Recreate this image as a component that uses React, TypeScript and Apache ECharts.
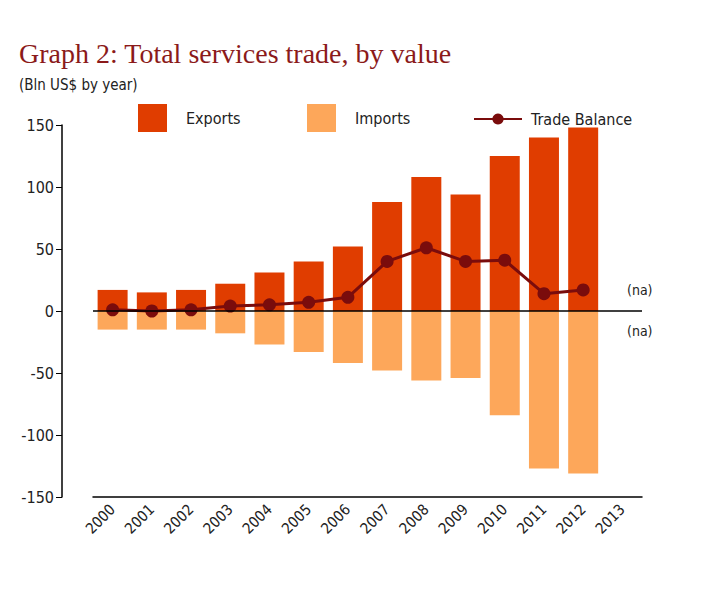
import React, { useEffect, useRef } from "react";
import * as echarts from "echarts";

const years = ["2000","2001","2002","2003","2004","2005","2006","2007","2008","2009","2010","2011","2012","2013"];
const exportsVals = [17, 15, 17, 22, 31, 40, 52, 88, 108, 94, 125, 140, 148, null];
const importsVals = [-15, -15, -15, -18, -27, -33, -42, -48, -56, -54, -84, -127, -131, null];
const balanceVals = [1, 0, 1, 4, 5, 7, 11, 40, 51, 40, 41, 14, 17, null];

const FONT = "'DejaVu Sans Condensed', 'Liberation Sans Narrow', 'Liberation Sans', Arial, sans-serif";

export default function App() {
  const ref = useRef<HTMLDivElement>(null);
  useEffect(() => {
    document.body.style.margin = "0";
    const chart = echarts.init(ref.current!, null, { renderer: "svg" });
    const legendText = { fontFamily: FONT, fontSize: 16, color: "#222", padding: [0, 0, 0, 14] };
    chart.setOption({
      animation: false,
      backgroundColor: "#fff",
      title: [
        { text: "Graph 2: Total services trade, by value", left: 14, top: 34,
          textStyle: { fontFamily: "'Liberation Serif', serif", fontSize: 28, fontWeight: "normal", color: "#8B1A1A" } },
        { text: "(Bln US$ by year)", left: 14, top: 72,
          textStyle: { fontFamily: FONT, fontSize: 15, fontWeight: "normal", color: "#222" } },
      ],
      legend: [
        { data: ["Exports"], left: 133, top: 99, itemWidth: 29, itemHeight: 28, textStyle: legendText, icon: "rect" },
        { data: ["Imports"], left: 302, top: 99, itemWidth: 29, itemHeight: 28, textStyle: legendText, icon: "rect" },
        { data: ["Trade Balance"], left: 468, top: 106, itemWidth: 48, itemHeight: 14, textStyle: { ...legendText, padding: [0, 0, 0, 4] } },
      ],
      grid: { left: 93, right: 80, top: 125, bottom: 103 },
      xAxis: {
        type: "category", data: years, boundaryGap: true,
        axisLine: { onZero: false, lineStyle: { color: "#000", width: 1.5 } },
        axisTick: { alignWithLabel: true, length: 6, lineStyle: { color: "#000" } },
        axisLabel: { rotate: 45, fontFamily: FONT, fontSize: 15, color: "#222", margin: 10 },
      },
      yAxis: {
        type: "value", min: -150, max: 150, interval: 50, offset: 31,
        axisLine: { show: true, lineStyle: { color: "#000", width: 1.5 } },
        axisTick: { show: true, length: 6, lineStyle: { color: "#000" } },
        axisLabel: { fontFamily: FONT, fontSize: 16, color: "#222", margin: 8 },
        splitLine: { show: false },
      },
      series: [
        { name: "Exports", type: "bar", stack: "t", data: exportsVals, barWidth: 30, itemStyle: { color: "#E03D00" },
          markLine: { silent: true, symbol: "none", label: { show: false }, lineStyle: { color: "#000", width: 1.5, type: "solid" }, data: [{ yAxis: 0 }] } },
        { name: "Imports", type: "bar", stack: "t", data: importsVals, barWidth: 30, itemStyle: { color: "#FDA75A" } },
        { name: "Trade Balance", type: "line", data: balanceVals, symbol: "circle", symbolSize: 13,
          lineStyle: { color: "#7A0C0C", width: 3 }, itemStyle: { color: "#7A0C0C" } },
      ],
      graphic: [
        { type: "text", left: 627, top: 283, style: { text: "(na)", font: `14px ${FONT}`, fill: "#222" } },
        { type: "text", left: 627, top: 324, style: { text: "(na)", font: `14px ${FONT}`, fill: "#222" } },
      ],
    });
    return () => chart.dispose();
  }, []);
  return <div ref={ref} style={{ width: 722, height: 600 }} />;
}
